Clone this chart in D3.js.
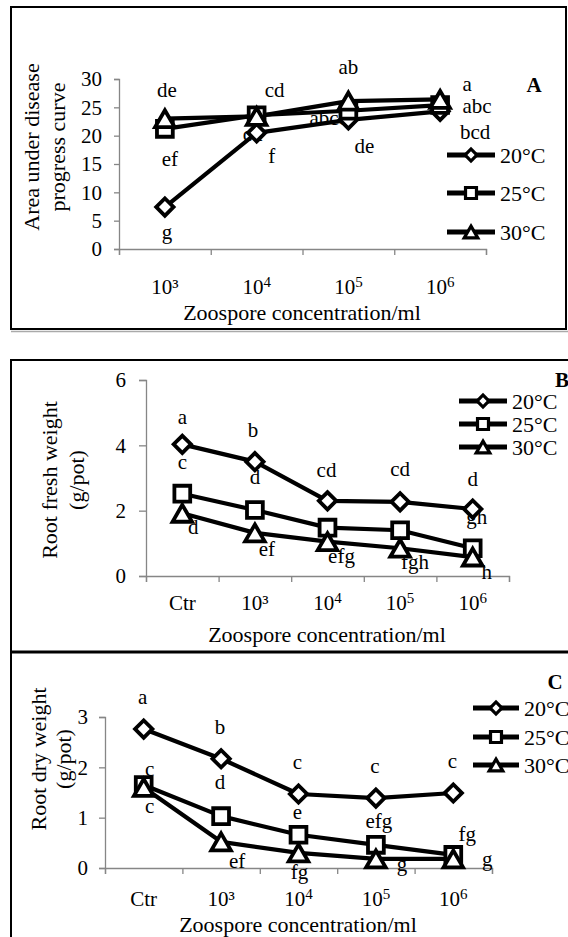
<!DOCTYPE html>
<meta charset="utf-8">
<title>Zoospore concentration vs temperature</title>
<style>
body { margin: 0; background: #fff; }
</style>
<body>
<script src="https://d3js.org/d3.v7.min.js"></script>
<script>

// ---- data ----
const temps = ["20°C", "25°C", "30°C"];
const concA = ["10³", "10⁴", "10⁵", "10⁶"];
const concBC = ["Ctr", "10³", "10⁴", "10⁵", "10⁶"];

// A: area under disease progress curve
const audpc20 = [7.4, 20.5, 22.8, 24.3];
const audpc25 = [21.2, 23.6, 24.4, 25.4];
const audpc30 = [23.0, 23.4, 26.1, 26.4];
const lettersA20 = ["g", "f", "de", "bcd"];
const lettersA25 = ["ef", "cd", "abcd", "abc"];
const lettersA30 = ["de", "cd", "ab", "a"];

// B: root fresh weight (g/pot)
const fresh20 = [4.03, 3.5, 2.3, 2.27, 2.05];
const fresh25 = [2.52, 2.02, 1.48, 1.4, 0.85];
const fresh30 = [1.92, 1.32, 1.05, 0.85, 0.58];
const lettersB20 = ["a", "b", "cd", "cd", "d"];
const lettersB25 = ["c", "d", "e", "e", "gh"];
const lettersB30 = ["d", "ef", "efg", "fgh", "h"];

// C: root dry weight (g/pot)
const dry20 = [2.76, 2.17, 1.47, 1.39, 1.49];
const dry25 = [1.65, 1.03, 0.66, 0.46, 0.26];
const dry30 = [1.6, 0.52, 0.3, 0.18, 0.18];
const lettersC20 = ["a", "b", "c", "c", "c"];
const lettersC25 = ["c", "d", "e", "efg", "fg"];
const lettersC30 = ["c", "ef", "fg", "g", "g"];

// ---- drawing ----
const W = 568, H = 937;
const FONT = "'Liberation Serif', 'Times New Roman', 'DejaVu Serif', serif";
const shapes = ["diamond", "square", "triangle"];
const plotSym = { diamond: 150, square: 250, triangle: 165, stroke: 3.8 };
const legSym = { diamond: 70, square: 120, triangle: 80, stroke: 3.2 };

let svg = d3.select('body').append('svg')
    .attr('width', W)
    .attr('height', H)
    .attr('font-family', FONT);

// frames round the panels
svg.append('rect')
    .attr('x', 11).attr('y', 7).attr('width', 555).attr('height', 322)
    .attr('fill', 'none').attr('stroke', '#000').attr('stroke-width', 2);
svg.append('line')
    .attr('x1', 11).attr('x2', W).attr('y1', 331.5).attr('y2', 331.5)
    .attr('stroke', '#aaa').attr('stroke-width', 1.5);
svg.append('path')
    .attr('d', `M${W},360H11V${H}`)
    .attr('fill', 'none').attr('stroke', '#000').attr('stroke-width', 2);
svg.append('line')
    .attr('x1', 11).attr('x2', W).attr('y1', 652).attr('y2', 652)
    .attr('stroke', '#000').attr('stroke-width', 3);

function drawMarker(g, shape, cx, cy, s) {
    let type = shape === 'triangle' ? d3.symbolTriangle : d3.symbolSquare;
    let dy = shape === 'triangle' ? Math.sqrt(s[shape] / (Math.sqrt(3) * 3)) / 2 : 0;
    g.append('path')
        .attr('d', d3.symbol(type, s[shape])())
        .attr('transform', `translate(${cx},${cy + dy})` + (shape === 'diamond' ? ' rotate(45)' : ''))
        .attr('fill', '#fff')
        .attr('stroke', '#000')
        .attr('stroke-width', s.stroke)
        .attr('stroke-linejoin', 'miter');
}

function tickLabel(sel) {
    // 10⁴ style labels: raised smaller digit
    const sup = { '⁴': '4', '⁵': '5', '⁶': '6' };
    sel.each(function(d) {
        let last = d.slice(-1);
        if (sup[last]) {
            let t = d3.select(this).text(d.slice(0, -1));
            t.append('tspan').attr('font-size', 15).attr('dy', '-0.45em').text(sup[last]);
        }
    });
}

function drawPanel(p) {
    let g = svg.append('g');
    let x = d3.scaleBand().domain(p.cats).range([p.x0, p.x1]);
    let y = d3.scaleLinear().domain([0, p.yMax]).range([p.y0, p.y1]);
    let xb = d3.scaleLinear().domain([0, p.cats.length]).range([p.x0, p.x1]);

    // y axis
    let ya = g.append('g')
        .attr('transform', `translate(${p.x0},0)`)
        .call(d3.axisLeft(y).tickValues(p.yTicks).tickFormat(d3.format('d'))
            .tickSize(p.tick).tickPadding(p.yPad));
    // x axis with ticks between categories
    let xa = g.append('g')
        .attr('transform', `translate(0,${p.y0})`)
        .call(d3.axisBottom(xb).ticks(p.cats.length).tickFormat('').tickSize(6));
    let xl = g.append('g')
        .attr('transform', `translate(0,${p.y0})`)
        .call(d3.axisBottom(x).tickSize(0).tickPadding(p.xPad));
    xl.select('.domain').remove();
    xl.selectAll('.tick text').call(tickLabel);

    [ya, xa, xl].forEach(a => {
        a.attr('font-family', FONT).attr('font-size', null);
        a.selectAll('path, line').attr('stroke', '#868686').attr('stroke-width', 1.3);
        a.selectAll('text').attr('font-size', 21).attr('fill', '#000');
    });

    // axis titles
    g.append('text')
        .attr('x', p.xTitle[0]).attr('y', p.xTitle[1])
        .attr('text-anchor', 'middle')
        .attr('font-size', 22)
        .text('Zoospore concentration/ml');
    p.yTitle.forEach((line, i) => {
        g.append('text')
            .attr('transform', `translate(${p.yTitleX[i]},${p.yTitleCy})rotate(-90)`)
            .attr('text-anchor', 'middle')
            .attr('font-size', 22)
            .text(line);
    });

    // significance letters (under the lines)
    p.series.forEach((vals, si) => {
        vals.forEach((v, i) => {
            let n = p.nudge[si][i];
            g.append('text')
                .attr('x', x(p.cats[i]) + x.bandwidth() / 2 + n[0])
                .attr('y', y(v) + n[1])
                .attr('dy', '0.3em')
                .attr('text-anchor', 'middle')
                .attr('font-size', 21)
                .text(p.letters[si][i]);
        });
    });

    // lines then markers
    let line = d3.line()
        .x((d, i) => x(p.cats[i]) + x.bandwidth() / 2)
        .y(d => y(d));
    p.series.forEach((vals, si) => {
        g.append('path')
            .attr('d', line(vals))
            .attr('fill', 'none')
            .attr('stroke', '#000')
            .attr('stroke-width', 4.2)
            .attr('stroke-linejoin', 'round');
    });
    p.series.forEach((vals, si) => {
        vals.forEach((v, i) => {
            drawMarker(g, shapes[si], x(p.cats[i]) + x.bandwidth() / 2, y(v), plotSym);
        });
    });

    // legend
    temps.forEach((t, i) => {
        let cy = p.leg.y[i];
        g.append('line')
            .attr('x1', p.leg.x0).attr('x2', p.leg.x1)
            .attr('y1', cy).attr('y2', cy)
            .attr('stroke', '#000').attr('stroke-width', 5);
        drawMarker(g, shapes[i], (p.leg.x0 + p.leg.x1) / 2, cy, legSym);
        g.append('text')
            .attr('x', p.leg.x1 + 5).attr('y', cy)
            .attr('dy', '0.35em')
            .attr('font-size', 22)
            .text(t);
    });

    // panel letter
    g.append('text')
        .attr('x', p.tag[1]).attr('y', p.tag[2])
        .attr('text-anchor', 'middle')
        .attr('font-size', 21)
        .attr('font-weight', 'bold')
        .text(p.tag[0]);
}

drawPanel({
    cats: concA, x0: 119, x1: 486, y0: 249, y1: 79, yMax: 30,
    yTicks: d3.range(0, 31, 5), tick: 5, yPad: 12, xPad: 30,
    series: [audpc20, audpc25, audpc30],
    letters: [lettersA20, lettersA25, lettersA30],
    nudge: [
        [[2, 26], [15, 24], [16, 27], [35, 21]],
        [[5, 31], [-4, 19], [-19, 8], [37, 2]],
        [[2, -28], [18, -26], [0, -33], [27, -15]]
    ],
    xTitle: [302, 320],
    yTitle: ['Area under disease', 'progress curve'], yTitleX: [39, 65], yTitleCy: 147,
    leg: { x0: 447, x1: 495, y: [155, 193, 232] },
    tag: ['A', 534, 92]
});

drawPanel({
    cats: concBC, x0: 146, x1: 509, y0: 576, y1: 380, yMax: 6,
    yTicks: [0, 2, 4, 6], tick: 7, yPad: 13, xPad: 19,
    series: [fresh20, fresh25, fresh30],
    letters: [lettersB20, lettersB25, lettersB30],
    nudge: [
        [[0, -27], [-2, -31], [-1, -30], [0, -32], [0, -29]],
        [[0, -31], [0, -32], [0, -26], [0, -28], [4, -31]],
        [[11, 14], [12, 17], [14, 15], [15, 14], [14, 16]]
    ],
    xTitle: [327, 642],
    yTitle: ['Root fresh weight', '(g/pot)'], yTitleX: [57, 84], yTitleCy: 480,
    leg: { x0: 459, x1: 507, y: [401, 424, 447] },
    tag: ['B', 562, 387]
});

drawPanel({
    cats: concBC, x0: 105, x1: 492, y0: 868, y1: 717, yMax: 3,
    yTicks: [0, 1, 2, 3], tick: 6, yPad: 11, xPad: 23,
    series: [dry20, dry25, dry30],
    letters: [lettersC20, lettersC25, lettersC30],
    nudge: [
        [[-1, -31], [-1, -31], [-1, -31], [-1, -31], [-1, -31]],
        [[6, -15], [-1, -33], [-1, -22], [3, -23], [14, -20]],
        [[6, 19], [16, 20], [1, 20], [26, 6], [34, 1]]
    ],
    xTitle: [298, 932],
    yTitle: ['Root dry weight', '(g/pot)'], yTitleX: [46, 71], yTitleCy: 759,
    leg: { x0: 473, x1: 519, y: [708, 737, 765] },
    tag: ['C', 555, 689]
});

</script>
</body>
